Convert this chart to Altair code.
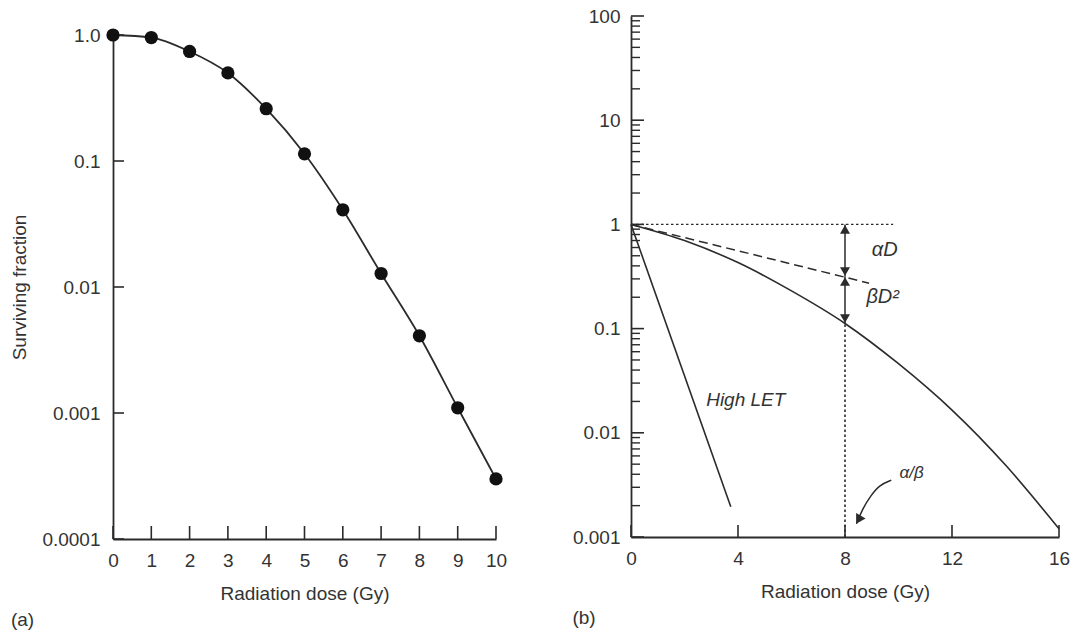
import altair as alt
import pandas as pd

FONT = "Liberation Sans"
INK = "#2b2b2b"
TXT = "#333333"

# ---------------- Panel (a): measured survival curve ----------------
dose_a = [0, 1, 2, 3, 4, 5, 6, 7, 8, 9, 10]
surv_a = [1.0, 0.955, 0.74, 0.50, 0.26, 0.114, 0.041, 0.0128, 0.0041, 0.0011, 0.0003]
ticks_a_y = [0.0001, 0.001, 0.01, 0.1, 1]
ticks_a_x = [0, 1, 2, 3, 4, 5, 6, 7, 8, 9, 10]

# ---------------- Panel (b): linear-quadratic model sketch ----------------
lq_dose = [0, 2, 4, 6, 8, 10, 12, 14, 16]
lq_surv = [1.0, 0.70, 0.43, 0.23, 0.112, 0.046, 0.0165, 0.0049, 0.0012]
alpha_dose = [0, 8.9]
alpha_surv = [1.0, 0.273]
highlet_dose = [0, 3.73]
highlet_surv = [1.0, 0.00195]
ref_dose = [0, 9.8]
ref_surv = [1.0, 1.0]
vline_dose = [8, 8]
vline_surv = [0.001, 0.112]
arrow_ad_surv = [1.0, 0.316]
arrow_bd_surv = [0.316, 0.112]
ab_curve_dose = [8.43, 8.65, 8.98, 9.29, 9.73]
ab_curve_surv = [0.00134, 0.00186, 0.00253, 0.00316, 0.00351]
ticks_b_y = [0.001, 0.01, 0.1, 1, 10, 100]
minor_mult = [2, 3, 4, 5, 6, 7, 8, 9]
minor_decades = [0.001, 0.01, 0.1, 1, 10]
minor_b_y = [m * d for d in minor_decades for m in minor_mult]
ticks_b_x = [0, 4, 8, 12, 16]

labels_b = ["\u03b1D", "\u03b2D\u00b2", "High LET", "\u03b1/\u03b2"]
labels_b_dose = [9.0, 8.8, 2.81, 10.04]
labels_b_surv = [0.568, 0.201, 0.0207, 0.00411]
labels_b_size = [20, 20, 19, 17]

# ---------------- sizes ----------------
WA, HA = 383, 523      # panel (a) plot box (top aligned with panel (b))
WB, HB = 428, 521

# ---------------- scales / axes ----------------
xa_scale = alt.Scale(domain=[0, 10], nice=False, zero=False)
ya_scale = alt.Scale(type="log", domain=[0.0001, 1], nice=False, range=[HA, 19])
xb_scale = alt.Scale(domain=[0, 16], nice=False, zero=False)
yb_scale = alt.Scale(type="log", domain=[0.001, 100], nice=False)

xa_axis = alt.Axis(values=ticks_a_x, title="Radiation dose (Gy)", grid=False, ticks=False,
                   labelPadding=12, titlePadding=14, labelFlush=False, labelOverlap=False)
ya_axis = alt.Axis(values=ticks_a_y, title="Surviving fraction", grid=False, ticks=False,
                   labelPadding=13, titlePadding=12, labelOverlap=False,
                   labelExpr="datum.value >= 1 ? '1.0' : toString(datum.value)")
xb_axis = alt.Axis(values=ticks_b_x, title="Radiation dose (Gy)", grid=False, ticks=False,
                   labelPadding=12, titlePadding=14, labelFlush=False, labelOverlap=False)
yb_axis = alt.Axis(values=ticks_b_y, title=None, grid=False, ticks=False,
                   labelPadding=11, labelOverlap=False, labelExpr="toString(datum.value)")

XA = lambda: alt.X("dose:Q", scale=xa_scale, axis=xa_axis)
YA = lambda: alt.Y("surv:Q", scale=ya_scale, axis=ya_axis)

# ---------------- panel (a) ----------------
df_a = pd.DataFrame({"dose": dose_a, "surv": surv_a})
base_a = alt.Chart(df_a)
curve_a = base_a.mark_line(color=INK, strokeWidth=1.8, interpolate="monotone").encode(x=XA(), y=YA())
pts_a = base_a.mark_point(filled=True, color="#111111", size=175, opacity=1).encode(x=XA(), y=YA())
ytick_a = alt.Chart(pd.DataFrame({"surv": ticks_a_y})).mark_rule(color=INK, strokeWidth=1.6).encode(
    y=YA(), x=alt.value(0), x2=alt.value(11)
)
xtick_a = alt.Chart(pd.DataFrame({"dose": ticks_a_x})).mark_rule(color=INK, strokeWidth=1.6).encode(
    x=XA(), y=alt.value(HA), y2=alt.value(HA - 13)
)
left = alt.layer(ytick_a, xtick_a, curve_a, pts_a).properties(
    width=WA, height=HA,
    title=alt.TitleParams("(a)", orient="bottom", anchor="start", offset=8,
                          fontSize=19, font=FONT, fontWeight="normal", color=TXT),
)

# ---------------- panel (b) ----------------
def seg(d, s):
    return pd.DataFrame({"dose": d, "surv": s})

X = lambda: alt.X("dose:Q", scale=xb_scale, axis=xb_axis)
Y = lambda: alt.Y("surv:Q", scale=yb_scale, axis=yb_axis)

lq = alt.Chart(seg(lq_dose, lq_surv)).mark_line(color=INK, strokeWidth=1.6, interpolate="monotone").encode(x=X(), y=Y())
alpha_line = alt.Chart(seg(alpha_dose, alpha_surv)).mark_line(color=INK, strokeWidth=1.5, strokeDash=[9, 5]).encode(x=X(), y=Y())
highlet = alt.Chart(seg(highlet_dose, highlet_surv)).mark_line(color=INK, strokeWidth=1.6).encode(x=X(), y=Y())
ref_line = alt.Chart(seg(ref_dose, ref_surv)).mark_line(color=INK, strokeWidth=1.4, strokeDash=[2.5, 2.5]).encode(x=X(), y=Y())
vline = alt.Chart(seg(vline_dose, vline_surv)).mark_line(color=INK, strokeWidth=1.6, strokeDash=[2.5, 2.5]).encode(x=X(), y=Y())
arr1 = alt.Chart(seg(vline_dose, arrow_ad_surv)).mark_line(color=INK, strokeWidth=1.5).encode(x=X(), y=Y())
arr2 = alt.Chart(seg(vline_dose, arrow_bd_surv)).mark_line(color=INK, strokeWidth=1.5).encode(x=X(), y=Y())

heads_up = alt.Chart(seg([8, 8], [1.0, 0.316])).mark_point(
    shape="triangle-up", filled=True, color=INK, size=100, opacity=1, yOffset=5).encode(x=X(), y=Y())
heads_down = alt.Chart(seg([8, 8], [0.316, 0.112])).mark_point(
    shape="triangle-down", filled=True, color=INK, size=100, opacity=1, yOffset=-5).encode(x=X(), y=Y())

ab_curve = alt.Chart(seg(ab_curve_dose, ab_curve_surv)).mark_line(
    color=INK, strokeWidth=1.5, interpolate="basis").encode(x=X(), y=Y())
ab_head = alt.Chart(seg(ab_curve_dose[:1], ab_curve_surv[:1])).mark_point(
    shape="triangle-down", filled=True, color=INK, size=120, opacity=1, angle=30,
    xOffset=2, yOffset=-4).encode(x=X(), y=Y())

minor = alt.Chart(pd.DataFrame({"surv": minor_b_y})).mark_rule(color=INK, strokeWidth=1.4).encode(
    y=Y(), x=alt.value(0), x2=alt.value(9)
)
major = alt.Chart(pd.DataFrame({"surv": ticks_b_y})).mark_rule(color=INK, strokeWidth=1.6).encode(
    y=Y(), x=alt.value(0), x2=alt.value(13)
)
xtick_b = alt.Chart(pd.DataFrame({"dose": ticks_b_x})).mark_rule(color=INK, strokeWidth=1.6).encode(
    x=X(), y=alt.value(HB), y2=alt.value(HB - 12)
)

lab_df = pd.DataFrame({"dose": labels_b_dose, "surv": labels_b_surv, "txt": labels_b, "fs": labels_b_size})
labels = alt.Chart(lab_df).mark_text(align="left", baseline="middle", fontStyle="italic",
                                      font=FONT, color=TXT).encode(
    x=X(), y=Y(), text="txt:N",
    size=alt.Size("fs:Q", scale=None, legend=None),
)

right = alt.layer(minor, major, xtick_b, ref_line, alpha_line, lq, highlet, vline, arr1, arr2,
                  heads_up, heads_down, ab_curve, ab_head, labels).properties(
    width=WB, height=HB,
    title=alt.TitleParams("(b)", orient="bottom", anchor="start", offset=8,
                          fontSize=19, font=FONT, fontWeight="normal", color=TXT),
)

chart = alt.hconcat(left, right, spacing=65).properties(
    padding={"left": 10, "top": 7, "right": 5, "bottom": 0}
).configure_view(stroke=None).configure_axis(
    domainColor=INK, domainWidth=1.8,
    labelFont=FONT, labelFontSize=19, labelColor=TXT,
    titleFont=FONT, titleFontSize=19, titleColor=TXT, titleFontWeight="normal",
)

chart.save("out.html", embed_options={"renderer": "svg", "actions": False})
